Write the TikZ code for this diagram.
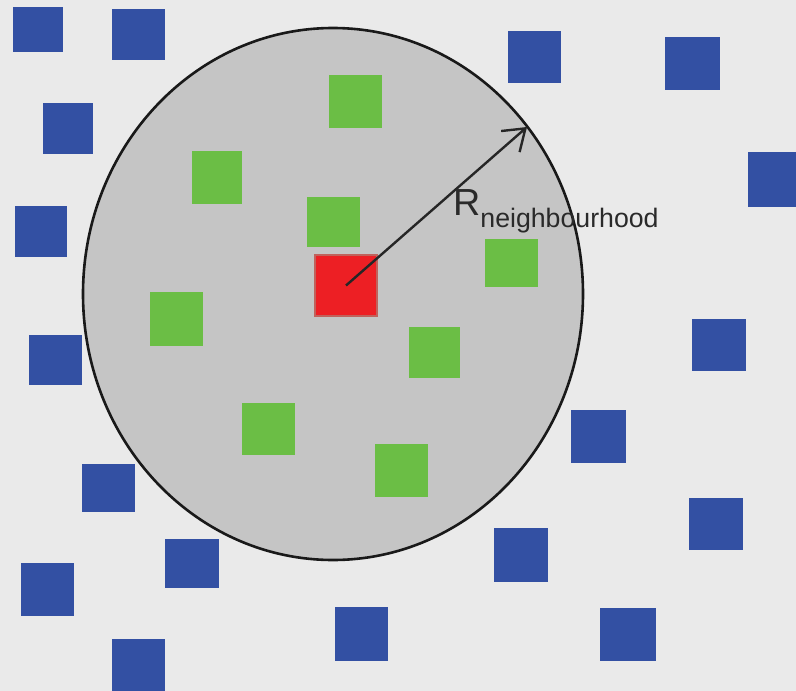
\documentclass[tikz,border=0pt]{standalone}
\usepackage{fontspec}
\setmainfont{Liberation Sans}
\usetikzlibrary{arrows.meta,shapes.geometric}
\definecolor{bg}{HTML}{EAEAEA}
\definecolor{disc}{HTML}{C5C5C5}
\definecolor{bluesq}{HTML}{3350A3}
\definecolor{greensq}{HTML}{6BBE45}
\definecolor{redsq}{HTML}{ED1F24}
\definecolor{rededge}{HTML}{C0625C}
\definecolor{txt}{HTML}{2A2A2A}
\tikzset{
  sq/.style={rectangle, inner sep=0pt, outer sep=0pt, draw=none},
  bsq/.style={sq, fill=bluesq},
  gsq/.style={sq, fill=greensq},
  rsq/.style={sq, fill=redsq, draw=rededge, line width=1.6pt},
  hood/.style={ellipse, draw=black!90, line width=2.6pt, fill=disc, inner sep=0pt},
  radius arrow/.style={draw=black!85, line width=2.4pt, -{Straight Barb[length=20pt,width=28pt,line width=2.4pt]}},
}
\begin{document}
\begin{tikzpicture}[x=1pt,y=-1pt]
\useasboundingbox (0,0) rectangle (796,691);
\clip (0,0) rectangle (796,691);
\fill[bg] (0,0) rectangle (796,691);
\node[hood, minimum width=500pt, minimum height=532pt] (circ) at (333,294) {};
% blue squares
\node[bsq, minimum width=50pt, minimum height=45pt] (b1) at (38,29.5) {};
\node[bsq, minimum width=53pt, minimum height=51pt] (b2) at (138.5,34.5) {};
\node[bsq, minimum width=50pt, minimum height=51pt] (b3) at (68,128.5) {};
\node[bsq, minimum width=52pt, minimum height=51pt] (b4) at (41,231.5) {};
\node[bsq, minimum width=53pt, minimum height=50pt] (b5) at (55.5,360) {};
\node[bsq, minimum width=53pt, minimum height=48pt] (b6) at (108.5,488) {};
\node[bsq, minimum width=54pt, minimum height=49pt] (b7) at (192,563.5) {};
\node[bsq, minimum width=53pt, minimum height=53pt] (b8) at (47.5,589.5) {};
\node[bsq, minimum width=53pt, minimum height=52pt] (b9) at (138.5,665) {};
\node[bsq, minimum width=53pt, minimum height=54pt] (b10) at (361.5,634) {};
\node[bsq, minimum width=54pt, minimum height=54pt] (b11) at (521,555) {};
\node[bsq, minimum width=56pt, minimum height=53pt] (b12) at (628,634.5) {};
\node[bsq, minimum width=53pt, minimum height=52pt] (b13) at (534.5,57) {};
\node[bsq, minimum width=55pt, minimum height=53pt] (b14) at (692.5,63.5) {};
\node[bsq, minimum width=52pt, minimum height=55pt] (b15) at (774,179.5) {};
\node[bsq, minimum width=54pt, minimum height=52pt] (b16) at (719,345) {};
\node[bsq, minimum width=55pt, minimum height=53pt] (b17) at (598.5,436.5) {};
\node[bsq, minimum width=54pt, minimum height=52pt] (b18) at (716,524) {};
% green squares
\node[gsq, minimum width=53pt, minimum height=53pt] (g1) at (355.5,101.5) {};
\node[gsq, minimum width=50pt, minimum height=53pt] (g2) at (217,177.5) {};
\node[gsq, minimum width=53pt, minimum height=50pt] (g3) at (333.5,222) {};
\node[gsq, minimum width=53pt, minimum height=54pt] (g4) at (176.5,319) {};
\node[gsq, minimum width=51pt, minimum height=51pt] (g5) at (434.5,352.5) {};
\node[gsq, minimum width=53pt, minimum height=52pt] (g6) at (268.5,429) {};
\node[gsq, minimum width=53pt, minimum height=53pt] (g7) at (401.5,470.5) {};
\node[gsq, minimum width=53pt, minimum height=48pt] (g8) at (511.5,263) {};
% red square
\node[rsq, minimum width=62pt, minimum height=61pt] (red) at (346,285.5) {};
% radius arrow
\coordinate (tip) at (527,127);
\draw[radius arrow] (red.center) -- (tip);
\node[anchor=base west, inner sep=0pt, text=txt] (lbl) at (453,215)
  {\fontsize{37.7}{40}\selectfont R\raisebox{-12pt}{\fontsize{26.7}{28}\selectfont neighbourhood}};
\end{tikzpicture}
\end{document}
